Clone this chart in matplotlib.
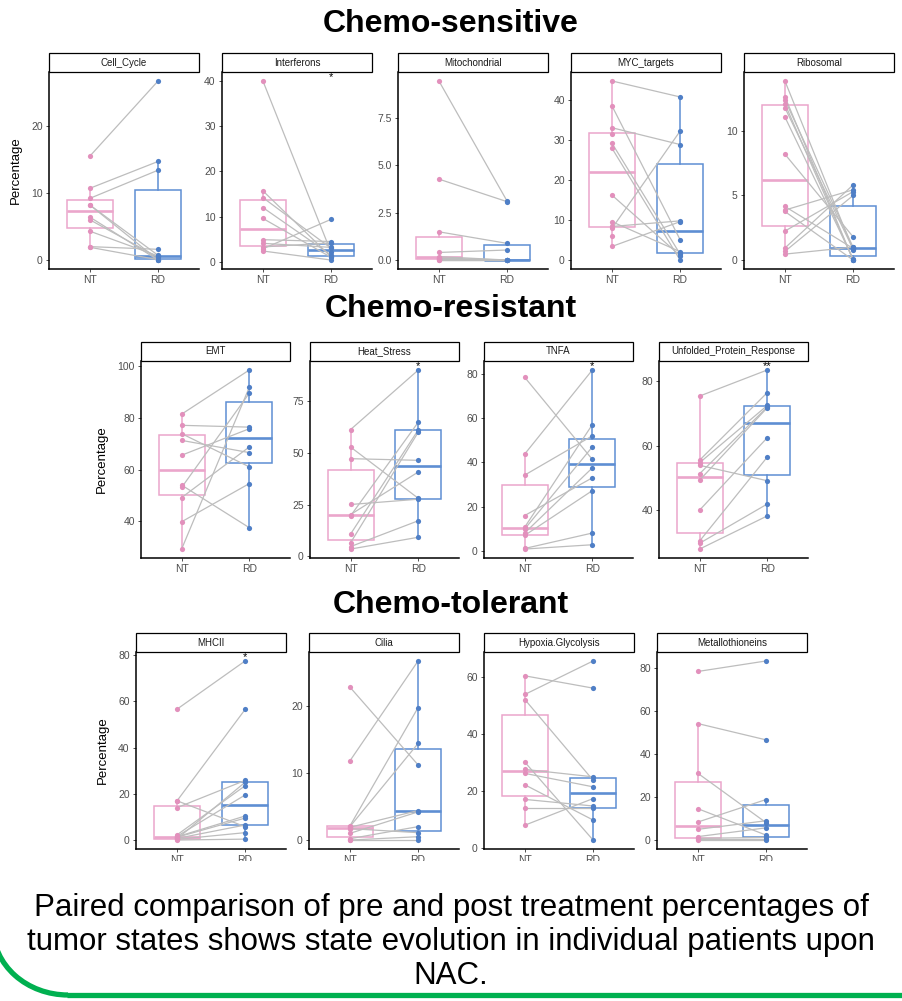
import numpy as np
import matplotlib
matplotlib.use("Agg")
import matplotlib.pyplot as plt
from matplotlib.patches import Rectangle, Arc

plt.rcParams["font.family"] = ["Liberation Sans", "DejaVu Sans"]

nan = np.nan
GROUPS = ["NT", "RD"]

# ---- Chemo-sensitive ----
cell_cycle_nt = [15.5, 10.7, 9.2, 8.2, 8.2, 6.4, 6.0, 4.3, 2.0, 1.9]
cell_cycle_rd = [26.7, 14.7, 13.4, 0.7, 0.0, 0.0, 0.4, 0.6, 1.6, 0.05]
interferons_nt = [40.0, 15.7, 14.2, 12.0, 9.6, 4.9, 4.1, 3.3, 2.9, 2.4]
interferons_rd = [2.1, 1.1, 3.0, 1.5, 1.0, 4.5, 3.2, 4.2, 9.4, 0.4]
mito_nt = [9.45, 4.27, 1.49, 0.4, 0.18, 0.1, 0.05, 0.05, 0.0, 0.0]
mito_rd = [3.11, 3.08, 0.88, 0.53, 0.0, 0.0, 0.0, 0.0, 0.0, 0.0]
myc_nt = [44.8, 38.6, 33.1, 31.5, 29.25, 28.0, 16.25, 9.6, 8.4, 7.9, 6.1, 3.4]
myc_rd = [40.8, 5.1, 28.9, nan, 1.5, 0.0, 1.1, 2.1, 9.8, 32.25, nan, 9.6]
ribo_nt = [13.87, 12.65, 12.4, 12.1, 11.8, 11.08, 8.2, 4.15, 3.87, 3.76, 2.24, 0.93, 0.67, 0.46]
ribo_rd = [0.8, 0.0, 1.0, 0.0, 0.85, 0.1, 1.8, 0.9, 5.44, 0.0, 5.3, 5.82, 5.0, 1.0]

# ---- Chemo-resistant ----
emt_nt = [81.3, 77.0, 73.8, 71.2, 65.5, 54.0, 53.1, 49.2, 39.9, 29.4]
emt_rd = [98.3, 76.3, 61.0, 66.5, 75.7, 37.6, 89.4, 68.7, 54.6, 91.7]
heat_nt = [61.3, 52.8, 47.2, 25.05, 19.6, 20.2, 10.8, 6.6, 4.7, 3.5]
heat_rd = [90.1, 28.0, 46.4, 27.6, 64.9, 40.8, 61.2, 60.1, 17.2, 9.2]
tnfa_nt = [78.5, 43.7, 34.2, 15.9, 10.6, 9.8, 8.0, 6.9, 1.0, 0.75]
tnfa_rd = [41.3, 81.8, 52.0, 33.0, 57.1, 47.0, 37.5, 27.2, 8.0, 2.7]
upr_nt = [75.4, 55.5, 54.7, 53.9, 51.3, 49.3, 40.0, 30.4, 29.7, 27.9]
upr_rd = [83.5, 76.5, 72.5, 49.1, 72.0, 71.8, 62.5, 56.5, 41.9, 38.2]

# ---- Chemo-tolerant ----
mhcii_nt = [56.6, 17.0, 16.9, 14.0, 2.2, 1.6, 1.4, 1.2, 0.7, 0.5, 0.3, 0.0]
mhcii_rd = [77.5, 5.8, 56.5, 25.8, 23.5, 19.5, 10.4, 9.5, 6.5, 25.0, 3.2, 0.4]
cilia_nt = [22.8, 11.8, 2.1, 2.0, 1.9, 1.7, 1.0, 0.2, 0.0, 0.0]
cilia_rd = [11.2, 26.7, 19.75, 14.4, 4.4, 1.1, 4.2, 2.0, 0.5, 0.0]
hypoxia_nt = [60.3, 53.8, 52.0, 30.1, 27.6, 26.2, 22.2, 17.1, 14.0, 8.1]
hypoxia_rd = [56.0, 65.5, 23.8, 2.9, 25.0, 21.5, 9.9, 14.8, 14.0, 17.4]
metallo_nt = [78.6, 54.3, 31.1, 14.6, 8.4, 5.0, 1.6, 0.8, 0.5, 0.0]
metallo_rd = [83.5, 46.7, 8.1, 2.3, 18.9, 9.0, 5.7, 1.2, 0.5, 0.0]

# ticks and significance labels
cell_cycle_ticks = [0, 10, 20]
interferons_ticks = [0, 10, 20, 30, 40]
mito_ticks = [0.0, 2.5, 5.0, 7.5]
myc_ticks = [0, 10, 20, 30, 40]
ribo_ticks = [0, 5, 10]
emt_ticks = [40, 60, 80, 100]
heat_ticks = [0, 25, 50, 75]
tnfa_ticks = [0, 20, 40, 60, 80]
upr_ticks = [40, 60, 80]
mhcii_ticks = [0, 20, 40, 60, 80]
cilia_ticks = [0, 10, 20]
hypoxia_ticks = [0, 20, 40, 60]
metallo_ticks = [0, 20, 40, 60, 80]

row_titles = ["Chemo-sensitive", "Chemo-resistant", "Chemo-tolerant"]
caption = ("Paired comparison of pre and post treatment percentages of\n"
           "tumor states shows state evolution in individual patients upon\n"
           "NAC.")

panels = [
    [("Cell_Cycle", cell_cycle_nt, cell_cycle_rd, cell_cycle_ticks, ""),
     ("Interferons", interferons_nt, interferons_rd, interferons_ticks, "*"),
     ("Mitochondrial", mito_nt, mito_rd, mito_ticks, ""),
     ("MYC_targets", myc_nt, myc_rd, myc_ticks, ""),
     ("Ribosomal", ribo_nt, ribo_rd, ribo_ticks, "")],
    [("EMT", emt_nt, emt_rd, emt_ticks, ""),
     ("Heat_Stress", heat_nt, heat_rd, heat_ticks, "*"),
     ("TNFA", tnfa_nt, tnfa_rd, tnfa_ticks, "*"),
     ("Unfolded_Protein_Response", upr_nt, upr_rd, upr_ticks, "**")],
    [("MHCII", mhcii_nt, mhcii_rd, mhcii_ticks, "*"),
     ("Cilia", cilia_nt, cilia_rd, cilia_ticks, ""),
     ("Hypoxia.Glycolysis", hypoxia_nt, hypoxia_rd, hypoxia_ticks, ""),
     ("Metallothioneins", metallo_nt, metallo_rd, metallo_ticks, "")],
]

# layout in pixels (figure is 902 x 1001)
W, H = 902, 1001
rows = [
    dict(lefts=[49, 222, 398, 571, 744], width=150, strip_top=53, strip_bot=72,
         bottom=269, title_y=24, ylab_x=22),
    dict(lefts=[141, 310, 484, 659], width=149, strip_top=342, strip_bot=361,
         bottom=558, title_y=309, ylab_x=108),
    dict(lefts=[136, 309, 484, 657], width=150, strip_top=633, strip_bot=652,
         bottom=849, title_y=605, ylab_x=109),
]

PINK_BOX = "#EBA6CB"
PINK_PT = "#E290BC"
BLUE_BOX = "#5E8ED3"
BLUE_PT = "#4F7FC6"
LINE_GRAY = "#BDBDBD"

fig = plt.figure(figsize=(W / 100, H / 100), dpi=100)
fig.patch.set_facecolor("white")

overlay = fig.add_axes([0, 0, 1, 1], zorder=10)
overlay.set_xlim(0, W)
overlay.set_ylim(H, 0)
overlay.axis("off")


def draw_box(ax, vals, pos, color):
    bp = ax.boxplot([vals], positions=[pos], widths=0.68, showfliers=False,
                    whis=1.5, patch_artist=True, zorder=1)
    for b in bp["boxes"]:
        b.set_facecolor("none")
        b.set_edgecolor(color)
        b.set_linewidth(1.1)
    for w in bp["whiskers"]:
        w.set_color(color)
        w.set_linewidth(1.1)
    for c in bp["caps"]:
        c.set_visible(False)
    for m in bp["medians"]:
        m.set_color(color)
        m.set_linewidth(1.9)


for r, row in enumerate(rows):
    overlay.text(W / 2, row["title_y"], row_titles[r], ha="center", va="center",
                 fontsize=23, fontweight="bold", color="black")
    for i, (name, nt, rd, ticks, sig) in enumerate(panels[r]):
        left = row["lefts"][i]
        w = row["width"]
        ax = fig.add_axes([left / W, 1 - row["bottom"] / H, w / W,
                           (row["bottom"] - row["strip_bot"]) / H])
        nt = np.array(nt, dtype=float)
        rd = np.array(rd, dtype=float)

        draw_box(ax, nt[~np.isnan(nt)], 1, PINK_BOX)
        draw_box(ax, rd[~np.isnan(rd)], 2, BLUE_BOX)

        for a, b in zip(nt, rd):
            if not (np.isnan(a) or np.isnan(b)):
                ax.plot([1, 2], [a, b], color=LINE_GRAY, lw=0.9, zorder=2)

        ax.scatter(np.ones(len(nt)), nt, s=14, color=PINK_PT, zorder=3, linewidths=0)
        ax.scatter(np.full(len(rd), 2), rd, s=14, color=BLUE_PT, zorder=3, linewidths=0)

        allv = np.concatenate([nt[~np.isnan(nt)], rd[~np.isnan(rd)]])
        lo, hi = allv.min(), allv.max()
        pad = 0.05 * (hi - lo)
        ax.set_ylim(lo - pad, hi + pad)
        ax.set_xlim(0.4, 2.6)
        ax.set_xticks([1, 2])
        ax.set_xticklabels(GROUPS)
        ax.set_yticks(ticks)
        if name == "Mitochondrial":
            ax.set_yticklabels([f"{t:.1f}" for t in ticks])
        else:
            ax.set_yticklabels([f"{t:g}" for t in ticks])

        for s in ["top", "right"]:
            ax.spines[s].set_visible(False)
        for s in ["left", "bottom"]:
            ax.spines[s].set_linewidth(1.1)
            ax.spines[s].set_color("black")
        ax.tick_params(labelsize=7.5, labelcolor="#4D4D4D", color="#333333",
                       length=2.5, width=0.6, pad=2)
        ax.set_facecolor("none")

        if sig:
            # significance mark sits at the top, partly under the strip
            ax.annotate(sig, xy=(2, hi + pad), xytext=(0, -4),
                        textcoords="offset points", ha="center", va="center",
                        fontsize=8, color="black", zorder=4)

        if i == 0:
            ax.set_ylabel("Percentage", fontsize=9.5, color="black")
            ax.yaxis.set_label_coords((row["ylab_x"] - left) / w, 0.5)

        # facet strip
        overlay.add_patch(Rectangle((left, row["strip_top"]), w,
                                    row["strip_bot"] - row["strip_top"],
                                    facecolor="white", edgecolor="black", lw=0.9))
        overlay.text(left + w / 2, (row["strip_top"] + row["strip_bot"]) / 2, name,
                     ha="center", va="center", fontsize=7, color="#1A1A1A")

# caption area covers the lowest tick labels
overlay.add_patch(Rectangle((0, 861), W, H - 861, facecolor="white",
                            edgecolor="none"))
overlay.text(W / 2, 942, caption, ha="center", va="center", fontsize=22.5,
             color="black", linespacing=1.17)

# green slide border
GREEN = "#00B050"
overlay.add_patch(Arc((68, 928), 150, 134, theta1=90, theta2=180,
                      color=GREEN, lw=3.8))
overlay.plot([67, W], [995, 995], color=GREEN, lw=3.8, solid_capstyle="butt")

fig.savefig("out.png", dpi=100)
